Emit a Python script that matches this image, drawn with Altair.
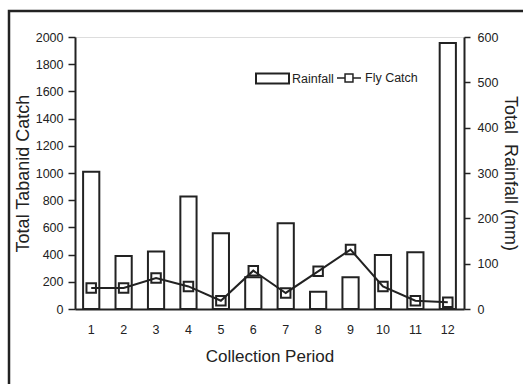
import altair as alt
import pandas as pd

periods = [1, 2, 3, 4, 5, 6, 7, 8, 9, 10, 11, 12]
rainfall_mm = [303, 117, 127, 248, 167, 70, 189, 38, 70, 119, 125, 587]
fly_catch = [155, 155, 228, 166, 61, 282, 118, 277, 437, 166, 61, 49]

df = pd.DataFrame({"period": periods, "rain": rainfall_mm, "catch": fly_catch})

INK = "#222222"
FONT = "Liberation Sans"

x_enc = alt.X(
    "period:O",
    scale=alt.Scale(paddingInner=0.5, paddingOuter=0.25),
    axis=alt.Axis(title="Collection Period", labelAngle=0, ticks=False,
                  labelPadding=14, titlePadding=13, titleFontSize=17,
                  labelFontSize=12.5, domainWidth=2),
)

bars = alt.Chart(df).transform_calculate(sr="'Rainfall'").mark_bar(
    fill="white", strokeWidth=2
).encode(
    x=x_enc,
    y=alt.Y("rain:Q", scale=alt.Scale(domain=[0, 600]),
            axis=alt.Axis(orient="right", title="Total\u00a0 Rainfall (mm)",
                          values=list(range(0, 601, 100)), grid=False, format="d",
                          tickSize=6, labelPadding=7, labelFontSize=12.5,
                          titleFontSize=18, titlePadding=3, domainWidth=2)),
    stroke=alt.Stroke("sr:N", scale=alt.Scale(domain=["Rainfall"], range=[INK]),
                      legend=alt.Legend(title=None, orient="none", legendX=180, legendY=24,
                                        symbolType="M-1,-0.3H1V0.3H-1Z", symbolSize=1089,
                                        symbolFillColor="white", symbolStrokeWidth=2,
                                        labelFontSize=12.5, labelOffset=2, padding=0)),
)

line = alt.Chart(df).transform_calculate(sc="'Fly Catch'").mark_line(
    strokeWidth=2,
    point=alt.OverlayMarkDef(shape="square", filled=False, size=90, strokeWidth=2),
).encode(
    x=x_enc,
    y=alt.Y("catch:Q", scale=alt.Scale(domain=[0, 2000]),
            axis=alt.Axis(orient="left", title="Total Tabanid Catch",
                          values=list(range(0, 2001, 200)), grid=False, format="d",
                          tickSize=7, labelPadding=5, labelFontSize=12.5,
                          titleFontSize=18, titlePadding=3, domainWidth=2)),
    color=alt.Color("sc:N", scale=alt.Scale(domain=["Fly Catch"], range=[INK]),
                    legend=alt.Legend(title=None, orient="none", legendX=261, legendY=28,
                                      symbolType="M-1,0H-0.33M0.33,0H1M-0.33,-0.33H0.33V0.33H-0.33Z",
                                      symbolSize=576, symbolFillColor="transparent",
                                      symbolStrokeWidth=1.5, labelFontSize=12.5,
                                      labelOffset=3, padding=0)),
)

frame = alt.Chart(pd.DataFrame({"f": [0]})).mark_rect(
    fill=None, stroke=INK, strokeWidth=2.5
).encode(
    x=alt.value(-66), x2=alt.value(470), y=alt.value(-26), y2=alt.value(360)
)

chart = alt.layer(bars, line, frame).resolve_scale(
    y="independent", stroke="independent", color="independent"
).properties(
    width=389, height=272,
    autosize=alt.AutoSizeParams(type="none"),
    padding={"left": 75, "top": 37, "right": 59, "bottom": 75},
    background="white",
).configure_view(stroke=None).configure(
    font=FONT
).configure_axis(
    labelColor=INK, titleColor=INK, domainColor=INK, tickColor=INK,
    titleFontWeight="normal", labelFont=FONT, titleFont=FONT, tickWidth=1.5,
).configure_legend(labelColor=INK, labelFont=FONT)

chart.save("out.html", embed_options={"renderer": "svg", "actions": False})
